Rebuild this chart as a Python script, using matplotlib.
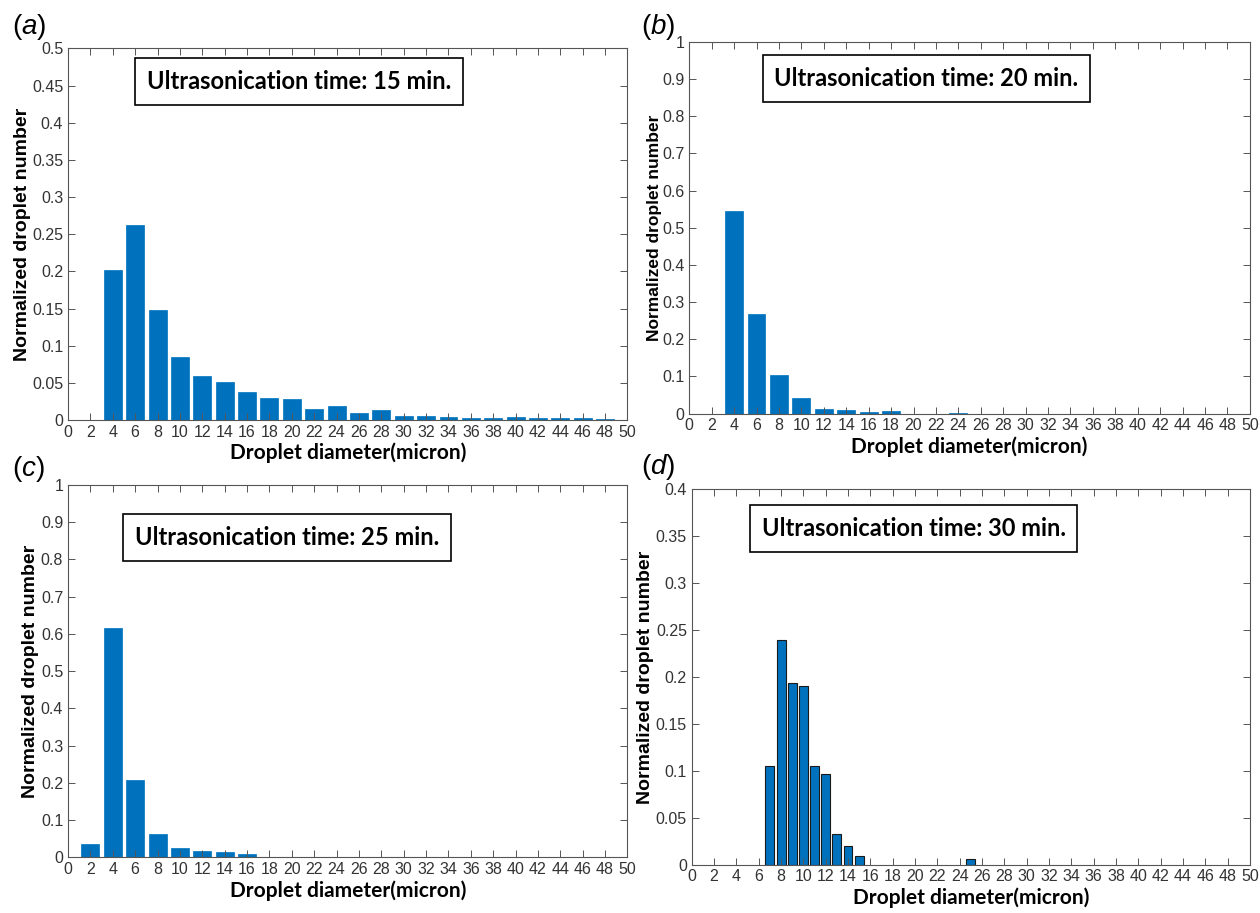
import matplotlib.pyplot as plt
import numpy as np

plt.rcParams["mathtext.fontset"] = "custom"
plt.rcParams["mathtext.it"] = "Liberation Sans:italic"
plt.rcParams["mathtext.rm"] = "Liberation Sans"

# panel (a) 15 min
bins_a = [4, 6, 8, 10, 12, 14, 16, 18, 20, 22, 24, 26, 28, 30, 32, 34, 36, 38, 40, 42, 44, 46, 48]
vals_a = [0.202, 0.262, 0.148, 0.085, 0.059, 0.051, 0.038, 0.029, 0.028, 0.015, 0.019, 0.010,
          0.014, 0.006, 0.005, 0.004, 0.003, 0.003, 0.004, 0.003, 0.003, 0.002, 0.001]
# panel (b) 20 min
bins_b = [4, 6, 8, 10, 12, 14, 16, 18, 24]
vals_b = [0.545, 0.268, 0.105, 0.042, 0.013, 0.009, 0.005, 0.006, 0.002]
# panel (c) 25 min
bins_c = [2, 4, 6, 8, 10, 12, 14, 16, 18, 20]
vals_c = [0.037, 0.615, 0.208, 0.063, 0.025, 0.016, 0.013, 0.010, 0.002, 0.002]
# panel (d) 30 min
bins_d = [7, 8, 9, 10, 11, 12, 13, 14, 15, 25]
vals_d = [0.105, 0.239, 0.194, 0.190, 0.105, 0.097, 0.033, 0.020, 0.009, 0.006]

times = ["15", "20", "25", "30"]
letters = ["a", "b", "c", "d"]

blue = "#0072BD"
tick_font = "Liberation Sans"
label_font = "Lato"

fig = plt.figure(figsize=(12.6, 9.13), dpi=100)

positions = [[0.054, 0.540, 0.444, 0.407],
             [0.547, 0.547, 0.445, 0.407],
             [0.054, 0.061, 0.444, 0.408],
             [0.549, 0.053, 0.443, 0.411]]
ylims = [0.5, 1.0, 1.0, 0.4]
ysteps = [0.05, 0.1, 0.1, 0.05]
boxes = [(0.141, 0.911), (0.152, 0.902), (0.120, 0.859), (0.125, 0.896)]
ylab_size = [14, 12.5, 14, 14]
ylab_pad = [1, 0, 1, 1]
letter_pos = [(12, 34), (641, 34), (12, 476), (641, 474)]

data = [(bins_a, vals_a, 1.6), (bins_b, vals_b, 1.6), (bins_c, vals_c, 1.6), (bins_d, vals_d, 0.8)]

for i in range(4):
    ax = fig.add_axes(positions[i])
    x, y, w = data[i]
    if i == 3:
        ax.bar(x, y, width=w, color=blue, edgecolor="#1a1a1a", linewidth=0.8)
    else:
        ax.bar(x, y, width=w, color=blue, edgecolor=blue, linewidth=0.5)
    ax.set_xlim(0, 50)
    ax.set_ylim(0, ylims[i])
    ax.set_xticks(np.arange(0, 51, 2))
    yt = np.round(np.arange(0, ylims[i] + 1e-9, ysteps[i]), 2)
    ax.set_yticks(yt)
    ax.set_yticklabels(["%g" % v for v in yt])
    ax.tick_params(direction="in", top=True, right=True, length=5, width=0.7,
                   color="#555555", labelcolor="#333333", labelsize=11.5)
    for lab in ax.get_xticklabels() + ax.get_yticklabels():
        lab.set_fontfamily(tick_font)
    for s in ax.spines.values():
        s.set_color("#555555")
        s.set_linewidth(0.8)
    ax.set_xlabel("Droplet diameter(micron)", fontsize=15, fontweight="bold",
                  family=label_font, labelpad=2)
    ax.set_ylabel("Normalized droplet number", fontsize=ylab_size[i], fontweight="bold",
                  family=tick_font, labelpad=ylab_pad[i])
    bx, by = boxes[i]
    ax.text(bx, by, "Ultrasonication time: %s min." % times[i], transform=ax.transAxes,
            fontsize=17, fontweight="bold", family=label_font, va="center", ha="left",
            bbox=dict(boxstyle="square,pad=0.5", facecolor="white", edgecolor="black", linewidth=1.2))

    lx, ly = letter_pos[i]
    fig.text(lx / 1260, 1 - ly / 913, "($\\it{%s}$)" % letters[i], fontsize=20,
             family=tick_font, va="baseline")

fig.savefig("out.png", dpi=100)
